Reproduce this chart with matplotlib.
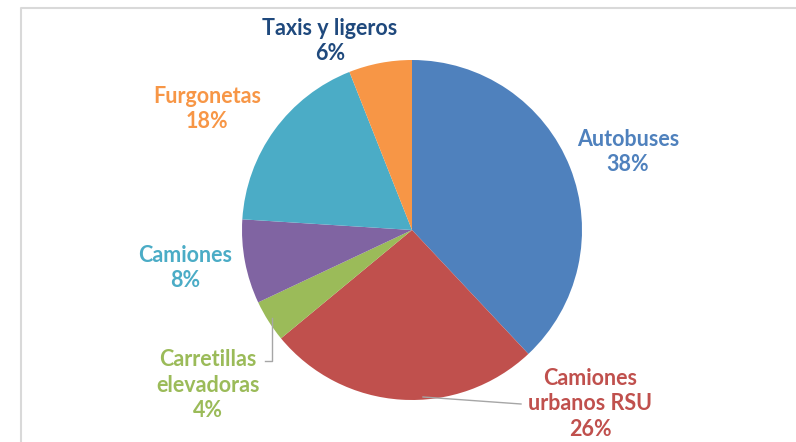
import matplotlib.pyplot as plt

# data
categorias = ['Autobuses', 'Camiones\nurbanos RSU', 'Carretillas\nelevadoras',
              'Camiones', 'Furgonetas', 'Taxis y ligeros']
porcentajes = [38, 26, 4, 8, 18, 6]

colores = ['#4F81BD', '#C0504D', '#9BBB59', '#8064A2', '#4BACC6', '#F79646']
colores_texto = ['#4F81BD', '#C0504D', '#9BBB59', '#4BACC6', '#F79646', '#1F497D']
# label centres in pixel coords (y measured from the bottom)
pos_texto = [(628, 290), (590, 38), (208, 57), (185, 174), (207, 333), (330, 401)]

W, H = 796, 442
fig = plt.figure(figsize=(W / 100, H / 100), dpi=100)
ax = fig.add_axes([0, 0, 1, 1])

# light chart frame
ax.plot([21, 21, W], [0, H - 8, H - 8], color='#D9D9D9', lw=1.5)

ax.pie(porcentajes, colors=colores, startangle=90, counterclock=False,
       center=(412, 212), radius=170, frame=True,
       wedgeprops=dict(linewidth=0))
ax.set_xlim(0, W)
ax.set_ylim(0, H)
ax.set_aspect('equal')
ax.axis('off')

for cat, pct, col, (x, y) in zip(categorias, porcentajes, colores_texto, pos_texto):
    ax.text(x, y, f'{cat}\n{pct}%', ha='center', va='center', color=col,
            fontsize=15.5, fontweight='bold', family='Lato', linespacing=1.28)

# leader lines
ax.plot([265, 272, 272], [81, 81, 124], color='#A6A6A6', lw=1)
ax.plot([521, 423], [38, 45], color='#A6A6A6', lw=1)

fig.savefig('out.png', dpi=100)
